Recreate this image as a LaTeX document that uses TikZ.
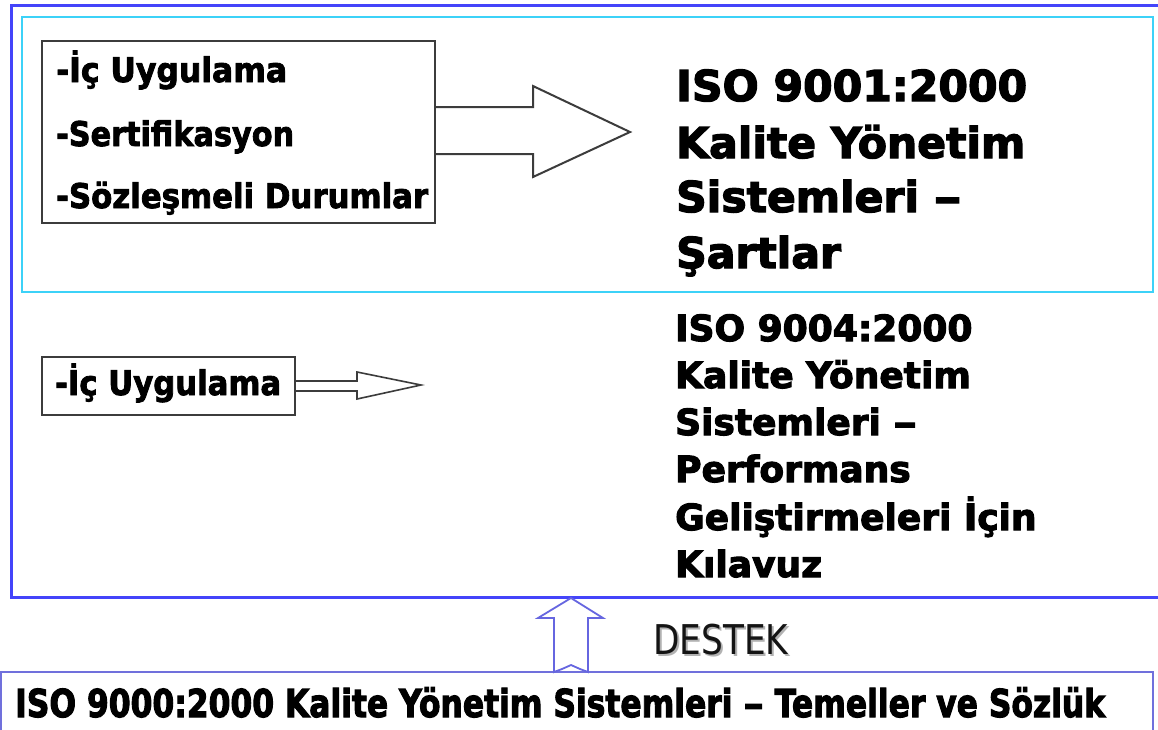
\documentclass[tikz,border=0pt]{standalone}
\usepackage{fontspec}
\usepackage{graphicx}
\setmainfont{DejaVu Sans}
\newfontfamily\hv{DejaVu Sans}[BoldFeatures={FakeBold=3}]
\newfontfamily\hvl{DejaVu Sans}[BoldFeatures={FakeBold=2.5}]
\usetikzlibrary{calc}
\newsavebox\fitbox
\newcommand\fitw[2]{\sbox\fitbox{#2}\pgfmathsetmacro\fitratio{#1/\the\wd\fitbox}\scalebox{\fitratio}[1]{\usebox\fitbox}}
\newcommand\wdash{\scalebox{1.3}[1]{–}}
\definecolor{outerblue}{HTML}{4444FA}
\definecolor{cyanb}{HTML}{3CD2F8}
\definecolor{dgray}{HTML}{3C3C3C}
\definecolor{arrowblue}{HTML}{6666E0}
\definecolor{botblue}{HTML}{7070DC}
\tikzset{
  frame/.style={draw=dgray, line width=2pt},
  boxnode/.style={frame, anchor=north west, inner sep=0pt},
  listtxt/.style={anchor=base west, inner sep=0pt, font=\fontsize{34}{34}\hvl\bfseries},
  bigtxt/.style={anchor=base west, inner sep=0pt, font=\fontsize{42.5}{42.5}\hv\bfseries},
  midtxt/.style={anchor=base west, inner sep=0pt, font=\fontsize{36}{36}\hv\bfseries},
  bottxt/.style={anchor=base west, inner sep=0pt, font=\fontsize{38.4}{38.4}\hv\bfseries},
  destxt/.style={anchor=base west, inner sep=0pt, font=\fontsize{41}{41}\selectfont},
}
\begin{document}
\begin{tikzpicture}[x=1pt,y=-1pt, line join=miter]
\useasboundingbox (0,0) rectangle (1158,729);
\clip (0,0) rectangle (1158,729);
\fill[white] (0,0) rectangle (1158,729);
% outer frame and cyan frame
\draw[outerblue, line width=3pt] (11,5) rectangle (1172,597);
\draw[cyanb, line width=2.5pt] (22,17) rectangle (1153,292);
% bottom box
\draw[botblue, line width=2pt] (1,672) rectangle (1153,760);
% box 1
\node[boxnode, minimum width=393pt, minimum height=182pt] (box1) at (41,40) {};
\node[listtxt] (l1) at (56,82) {\fitw{231}{-İç Uygulama}};
\node[listtxt] (l2) at (56,146) {\fitw{238}{-Sertifikasyon}};
\node[listtxt] (l3) at (56,208) {\fitw{372}{-Sözleşmeli Durumlar}};
\coordinate (a1s) at ($(box1.north east)+(0,67)$);
\coordinate (a1e) at ($(box1.north east)+(0,114)$);
\coordinate (a1tip) at (630,132);
\draw[frame] (a1s) -- (533,107) -- (533,86) -- (a1tip) -- (533,177) -- (533,154) -- (a1e);
% box 2
\node[boxnode, minimum width=253pt, minimum height=58pt] (box2) at (41,356) {};
\node[listtxt] (l4) at (55,395) {\fitw{226}{-İç Uygulama}};
\coordinate (a2s) at ($(box2.north east)+(0,25)$);
\coordinate (a2e) at ($(box2.north east)+(0,35)$);
\coordinate (a2tip) at (421,385);
\draw[frame, line width=1.6pt] (a2s) -- (357,381) -- (357,372) -- (a2tip) -- (357,399) -- (357,391) -- (a2e);
% right texts, upper
\node[bigtxt] (r1) at (676,101) {ISO 9001:2000};
\node[bigtxt] (r2) at (676,158) {Kalite Yönetim};
\node[bigtxt] (r3) at (676,212) {Sistemleri \wdash};
\node[bigtxt] (r4) at (676,268) {Şartlar};
% right texts, middle
\node[midtxt] (m1) at (675,341) {ISO 9004:2000};
\node[midtxt] (m2) at (675,388) {Kalite Yönetim};
\node[midtxt] (m3) at (675,435) {Sistemleri \wdash};
\node[midtxt] (m4) at (675,482) {Performans};
\node[midtxt] (m5) at (675,530) {Geliştirmeleri İçin};
\node[midtxt] (m6) at (675,577) {Kılavuz};
% support arrow
\coordinate (uptip) at (571,598);
\draw[arrowblue, line width=1.8pt] (554,672) -- (554,618) -- (538,618) -- (uptip) -- (603,618) -- (588,618) -- (588,672)
  -- (580,669) -- (571,665) -- (562,669) -- cycle;
\node[destxt, text=black!30] (dsh) at (655,656) {\fitw{135}{DESTEK}};
\node[destxt, text=black!92] (des) at (653,654) {\fitw{135}{DESTEK}};
% bottom text
\node[bottxt] (bt) at (15,717) {\fitw{1090}{ISO 9000:2000 Kalite Yönetim Sistemleri \wdash{} Temeller ve Sözlük}};
\end{tikzpicture}
\end{document}
